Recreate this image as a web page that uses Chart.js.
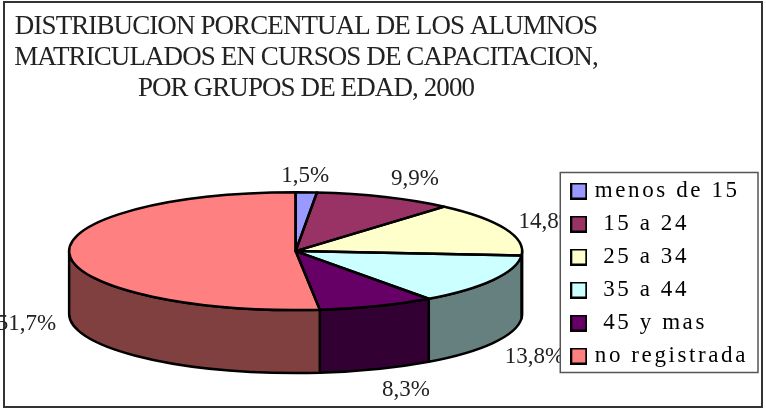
<!DOCTYPE html>
<html>
<head>
<meta charset="utf-8">
<title>Distribucion porcentual</title>
<script src="https://cdn.jsdelivr.net/npm/chart.js@4"></script>
<style>
  html, body { margin: 0; padding: 0; background: #fff; }
  canvas { display: block; }
</style>
</head>
<body>
<canvas id="torta" width="766" height="410"></canvas>
<script>
const categories = ['menos de 15', ' 15 a 24', ' 25 a 34', ' 35 a 44', ' 45 y mas', 'no registrada'];
const shares = [1.5, 9.9, 14.8, 13.8, 8.3, 51.7];
const titleLines = [
  'DISTRIBUCION PORCENTUAL DE LOS ALUMNOS',
  'MATRICULADOS EN CURSOS DE CAPACITACION,',
  'POR GRUPOS DE EDAD, 2000'
];
const topColors = ['#9999FF', '#993366', '#FFFFCC', '#CCFFFF', '#660066', '#FF8080'];
const wallColors = ['#4D4D80', '#4D1A33', '#808066', '#668080', '#330033', '#804040'];

// pie look: squash of the circle and height of the side wall
const tilt = 0.26;
const depth = 63;
const serif = '"Liberation Serif", serif';
// label shift from the rim of each slice (excel places them by hand, more or less)
const labelNudge = [[-1, -16], [30, -18], [43, -7], [41, 14], [29, 21], [-43, 7]];

function swatch(color) {
  const c = document.createElement('canvas');
  c.width = 17;
  c.height = 17;
  const g = c.getContext('2d');
  g.fillStyle = color;
  g.strokeStyle = '#000';
  g.lineWidth = 2;
  g.fillRect(1, 1, 15, 15);
  g.strokeRect(1, 1, 15, 15);
  return c;
}

function squash(ctx, arc) {
  ctx.translate(arc.x, arc.y);
  ctx.scale(1, tilt);
  ctx.translate(-arc.x, -arc.y);
}

const pie3d = {
  id: 'pie3d',
  beforeLayout(chart) {
    chart.ctx.letterSpacing = '2.6px'; // legend text, also for its width
  },
  afterLayout(chart) {
    const box = chart.titleBlock;
    box.left = 0;
    box.right = 612;
    if (!box._wrapped) {
      const draw = box.draw.bind(box);
      box.draw = function() {
        chart.ctx.save();
        chart.ctx.letterSpacing = '-0.9px';
        draw();
        chart.ctx.restore();
      };
      box._wrapped = true;
    }
    chart.legend.top += 69;
    chart.legend.bottom += 69;
  },
  beforeDraw(chart) {
    const ctx = chart.ctx;
    ctx.save();
    ctx.fillStyle = '#fff';
    ctx.fillRect(0, 0, chart.width, chart.height);
    ctx.strokeStyle = '#333';
    ctx.lineWidth = 2;
    ctx.strokeRect(4, 2, 758, 405);
    ctx.restore();
  },
  beforeDatasetsDraw(chart) {
    const ctx = chart.ctx;
    const arcs = chart.getDatasetMeta(0).data;
    ctx.save();
    ctx.strokeStyle = '#000';
    ctx.lineWidth = 2.5;
    ctx.lineJoin = 'round';
    arcs.forEach((arc, i) => {
      const from = Math.max(arc.startAngle, 0);
      const to = Math.min(arc.endAngle, Math.PI);
      if (to <= from) return;
      const ry = arc.outerRadius * tilt;
      ctx.beginPath();
      ctx.ellipse(arc.x, arc.y, arc.outerRadius, ry, 0, from, to);
      ctx.ellipse(arc.x, arc.y + depth, arc.outerRadius, ry, 0, to, from, true);
      ctx.closePath();
      ctx.fillStyle = wallColors[i];
      ctx.fill();
      ctx.stroke();
    });
    ctx.restore();
    ctx.save();
    squash(ctx, arcs[0]);
  },
  afterDatasetsDraw(chart) {
    const ctx = chart.ctx;
    const arcs = chart.getDatasetMeta(0).data;
    ctx.restore();

    ctx.save();
    ctx.strokeStyle = '#000';
    ctx.lineWidth = 2.5;
    ctx.lineJoin = 'round';
    arcs.forEach(arc => {
      ctx.save();
      squash(ctx, arc);
      ctx.beginPath();
      ctx.moveTo(arc.x, arc.y);
      ctx.arc(arc.x, arc.y, arc.outerRadius, arc.startAngle, arc.endAngle);
      ctx.closePath();
      ctx.restore(); // stroke with the round pen, not the squashed one
      ctx.stroke();
    });
    ctx.restore();

    // percent labels, the legend box cuts them like in the original
    const legend = chart.legend;
    const frameLeft = legend.left - 4;
    ctx.save();
    ctx.beginPath();
    ctx.rect(0, 0, frameLeft, chart.height);
    ctx.clip();
    ctx.letterSpacing = '0px';
    ctx.font = '23px ' + serif;
    ctx.fillStyle = '#222';
    ctx.textAlign = 'center';
    ctx.textBaseline = 'middle';
    arcs.forEach((arc, i) => {
      const mid = (arc.startAngle + arc.endAngle) / 2;
      const rimX = arc.x + Math.cos(mid) * arc.outerRadius;
      let rimY = arc.y + Math.sin(mid) * arc.outerRadius * tilt;
      if (Math.sin(mid) > 0) rimY += depth;
      const text = shares[i].toFixed(1).replace('.', ',') + '%';
      ctx.fillText(text, rimX + labelNudge[i][0], rimY + labelNudge[i][1]);
    });
    ctx.restore();

    // legend frame
    const midY = (legend.top + legend.bottom) / 2;
    ctx.save();
    ctx.strokeStyle = '#555';
    ctx.lineWidth = 1.5;
    ctx.strokeRect(frameLeft, midY - 101, legend.right - frameLeft, 200);
    ctx.restore();
  }
};

new Chart(document.getElementById('torta'), {
  type: 'pie',
  data: {
    labels: categories,
    datasets: [{
      data: shares,
      backgroundColor: topColors,
      borderWidth: 0,
      radius: 226.5,
      clip: false
    }]
  },
  options: {
    responsive: false,
    animation: false,
    layout: { padding: { top: 11, bottom: 12, left: 27, right: 8 } },
    plugins: {
      tooltip: { enabled: false },
      title: {
        display: true,
        text: titleLines,
        color: '#222',
        font: { size: 27, family: serif, weight: 'normal', lineHeight: 1.15 },
        padding: 0
      },
      legend: {
        position: 'right',
        labels: {
          color: '#222',
          font: { size: 23, family: serif },
          padding: 10,
          usePointStyle: true,
          pointStyleWidth: 9,
          generateLabels: () => categories.map((text, i) => ({
            text,
            index: i,
            pointStyle: swatch(topColors[i]),
            fillStyle: topColors[i],
            strokeStyle: '#000',
            lineWidth: 2
          }))
        }
      }
    }
  },
  plugins: [pie3d]
});
</script>
</body>
</html>
